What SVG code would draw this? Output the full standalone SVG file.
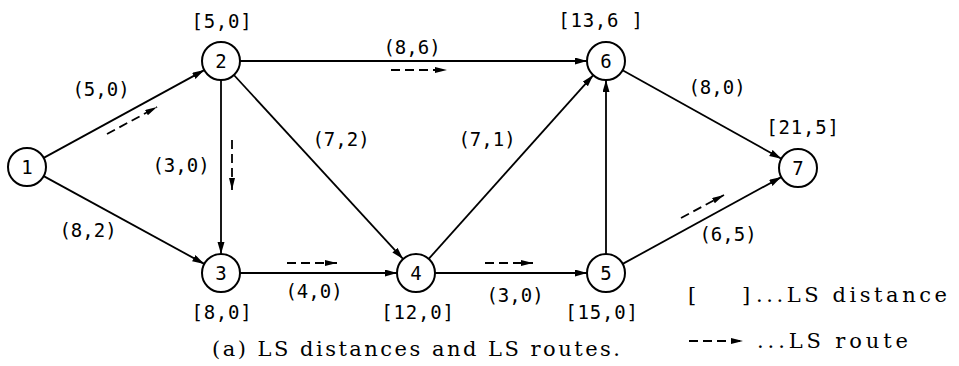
<svg xmlns="http://www.w3.org/2000/svg" width="959" height="366" viewBox="0 0 959 366">
<style>
.node circle{fill:#fff;stroke:#000;stroke-width:2}
.nl{font-family:"DejaVu Sans Mono",monospace;font-size:19px;text-anchor:middle;fill:#000}
.lb{font-family:"DejaVu Sans Mono",monospace;font-size:19px;text-anchor:middle;fill:#000}
.br{letter-spacing:0.8px}
.cap{font-family:"DejaVu Serif","Liberation Serif",serif;font-size:21px;fill:#000}
.e{stroke:#000;stroke-width:1.8;fill:none;marker-end:url(#ah)}
.d{stroke:#000;stroke-width:1.8;fill:none;stroke-dasharray:9 5;marker-end:url(#dh)}
</style>
<defs>
<marker id="ah" markerUnits="userSpaceOnUse" markerWidth="13" markerHeight="8" refX="12" refY="3.5" orient="auto"><path d="M0,0 L12,3.5 L0,7 z" fill="#000"/></marker>
<marker id="dh" markerUnits="userSpaceOnUse" markerWidth="13" markerHeight="7" refX="12" refY="3" orient="auto"><path d="M0,0 L12,3 L0,6 z" fill="#000"/></marker>
</defs>
<rect width="959" height="366" fill="#fff"/>
<g id="connectors">
<line class="e" x1="43.7" y1="157.9" x2="204.3" y2="70.1"/>
<line class="e" x1="43.7" y1="176.1" x2="204.3" y2="263.9"/>
<line class="e" x1="221" y1="80" x2="221" y2="254"/>
<line class="e" x1="233.9" y1="75" x2="403.1" y2="259"/>
<line class="e" x1="240" y1="61" x2="587" y2="61"/>
<line class="e" x1="240" y1="273" x2="397" y2="273"/>
<line class="e" x1="435" y1="273" x2="587" y2="273"/>
<line class="e" x1="428.7" y1="258.9" x2="593.3" y2="75.1"/>
<line class="e" x1="606" y1="254" x2="606" y2="80"/>
<line class="e" x1="622.7" y1="263.9" x2="781.3" y2="177.1"/>
<line class="e" x1="622.6" y1="70.2" x2="781.4" y2="158.8"/>
<line class="d" x1="107" y1="134" x2="157" y2="107"/>
<line class="d" x1="232" y1="140" x2="232" y2="190"/>
<line class="d" x1="391" y1="70" x2="447" y2="70"/>
<line class="d" x1="287" y1="263" x2="337" y2="263"/>
<line class="d" x1="485" y1="263" x2="533" y2="263"/>
<line class="d" x1="681" y1="218" x2="724" y2="195"/>
</g>
<g id="n1" class="node"><circle cx="27" cy="167" r="19"/><text class="nl" x="27" y="174">1</text></g>
<g id="n2" class="node"><circle cx="221" cy="61" r="19"/><text class="nl" x="221" y="68">2</text><text class="lb br" x="222" y="28">[5,0]</text></g>
<g id="n3" class="node"><circle cx="221" cy="273" r="19"/><text class="nl" x="221" y="280">3</text><text class="lb br" x="222" y="319">[8,0]</text></g>
<g id="n4" class="node"><circle cx="416" cy="273" r="19"/><text class="nl" x="416" y="280">4</text><text class="lb br" x="418" y="319">[12,0]</text></g>
<g id="n5" class="node"><circle cx="606" cy="273" r="19"/><text class="nl" x="606" y="280">5</text><text class="lb br" x="602" y="319">[15,0]</text></g>
<g id="n6" class="node"><circle cx="606" cy="61" r="19"/><text class="nl" x="606" y="68">6</text><text class="lb br" x="601" y="27">[13,6 ]</text></g>
<g id="n7" class="node"><circle cx="798" cy="168" r="19"/><text class="nl" x="798" y="175">7</text><text class="lb br" x="803" y="134">[21,5]</text></g>
<g id="edge-labels">
<text class="lb" x="101" y="96">(5,0)</text>
<text class="lb" x="181" y="172">(3,0)</text>
<text class="lb" x="88" y="237">(8,2)</text>
<text class="lb" x="314" y="298">(4,0)</text>
<text class="lb" x="515" y="302">(3,0)</text>
<text class="lb" x="341" y="146">(7,2)</text>
<text class="lb" x="487" y="146">(7,1)</text>
<text class="lb" x="412" y="54">(8,6)</text>
<text class="lb" x="717" y="94">(8,0)</text>
<text class="lb" x="728" y="241">(6,5)</text>
</g>
<g id="legend">
<text class="cap" x="688" y="302">[</text>
<text class="cap" x="742" y="302">]</text>
<text class="cap" x="756" y="302" textLength="191" lengthAdjust="spacing">...LS distance</text>
<line class="d" x1="689" y1="341" x2="743" y2="341"/>
<text class="cap" x="757" y="348" textLength="151" lengthAdjust="spacing">...LS route</text>
</g>
<text id="caption" class="cap" x="212" y="356" textLength="408" lengthAdjust="spacing">(a) LS distances and LS routes.</text>
</svg>
